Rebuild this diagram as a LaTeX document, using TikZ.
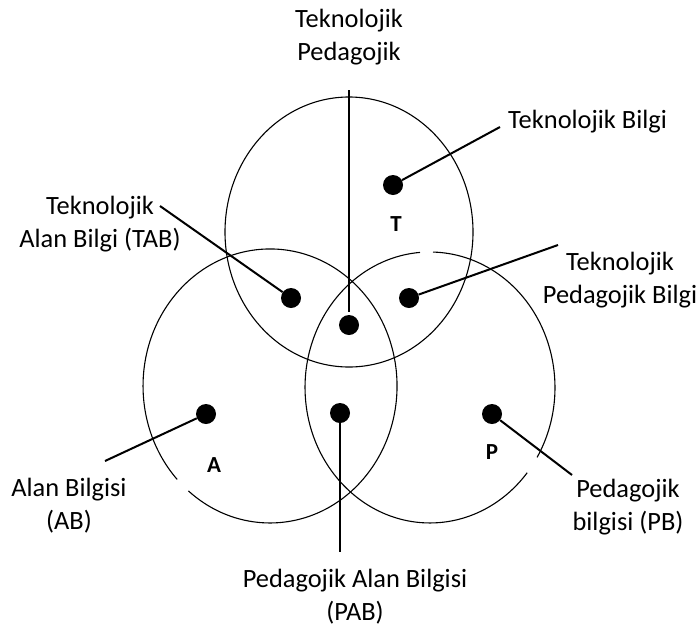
\documentclass[tikz,border=0pt]{standalone}
\usepackage{fontspec}
\setmainfont{Carlito}
\begin{document}
\begin{tikzpicture}[x=1pt,y=1pt,
  lbl/.style={font=\fontsize{26.4}{33}\selectfont, inner sep=0pt, align=center},
  letter/.style={font=\fontsize{23}{28}\selectfont\bfseries, inner sep=0pt},
  dot/.style={circle, fill=black, inner sep=0pt, minimum size=20pt},
  conn/.style={line width=2pt},
  ring/.style={line width=1.1pt}]
\useasboundingbox (0,0) rectangle (700,-632);
% circles
\draw[ring] (349,-232) ellipse [x radius=124, y radius=135];
\draw[ring] (188.4,-490.9) arc[start angle=230, end angle=583, x radius=127, y radius=137];
\draw[ring] (420.0,-252.4) arc[start angle=94.6, end angle=321, x radius=125, y radius=135.5];
\draw[ring] (537.1,-457.3) arc[start angle=329, end angle=448.6, x radius=125, y radius=135.5];
% dots
\node[dot] (dT) at (393,-185) {};
\node[dot] (dTAB) at (291,-298) {};
\node[dot] (dTPB) at (409,-298) {};
\node[dot] (dC) at (349,-325) {};
\node[dot] (dA) at (206,-414) {};
\node[dot] (dPAB) at (340,-413) {};
\node[dot] (dP) at (492,-414) {};
% free ends
\coordinate (eTP) at (349,-90);
\coordinate (eTB) at (500,-127);
\coordinate (eTAB) at (160,-206);
\coordinate (eTPB) at (558,-245);
\coordinate (eAB) at (105,-461);
\coordinate (ePAB) at (340,-552);
\coordinate (ePB) at (572,-475);
% connectors
\draw[conn, shorten >=3pt] (eTP) -- (dC);
\draw[conn] (dT) -- (eTB);
\draw[conn] (dTAB) -- (eTAB);
\draw[conn] (dTPB) -- (eTPB);
\draw[conn] (dA) -- (eAB);
\draw[conn] (dPAB) -- (ePAB);
\draw[conn] (dP) -- (ePB);
% letters
\node[letter] (lT) at (396,-224) {T};
\node[letter] (lA) at (214,-465) {A};
\node[letter] (lP) at (492,-452) {P};
% labels (base anchor = baseline of last line)
\node[lbl, anchor=base] (lTP) at (349,-60) {Teknolojik\\Pedagojik};
\node[lbl, anchor=base west] (lTB) at (508,-128) {Teknolojik Bilgi};
\node[lbl, anchor=base] (lTAB) at (100,-247) {Teknolojik\\Alan Bilgi (TAB)};
\node[lbl, anchor=base] (lTPB) at (620,-303) {Teknolojik\\Pedagojik Bilgi};
\node[lbl, anchor=base] (lAB) at (69,-529) {Alan Bilgisi\\(AB)};
\node[lbl, anchor=base] (lPAB) at (355,-620) {Pedagojik Alan Bilgisi\\(PAB)};
\node[lbl, anchor=base] (lPB) at (628,-530) {Pedagojik\\bilgisi (PB)};
\end{tikzpicture}
\end{document}
